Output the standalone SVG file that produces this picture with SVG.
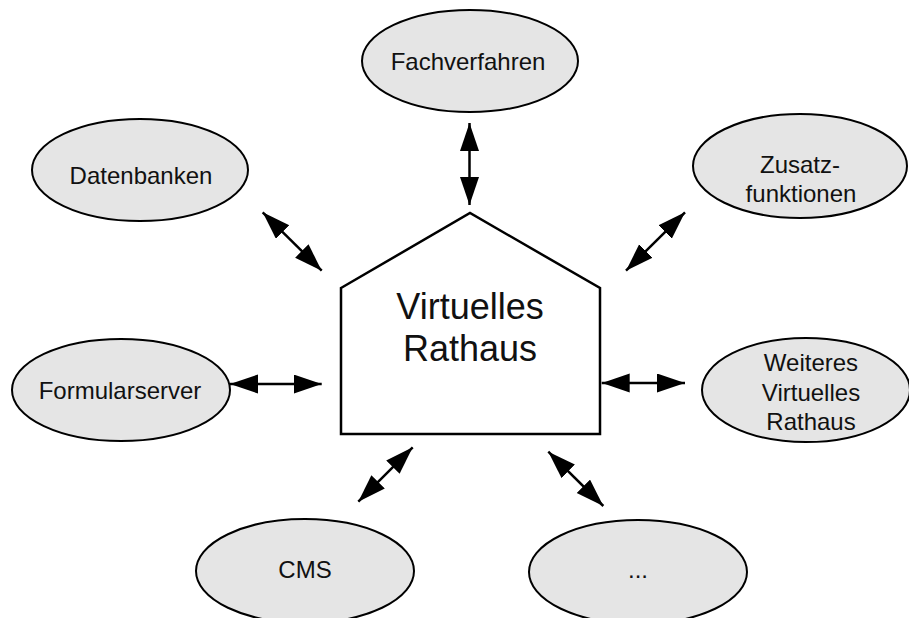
<svg xmlns="http://www.w3.org/2000/svg" width="909" height="618" viewBox="0 0 909 618">
<style>
.node ellipse{fill:#e5e5e5;stroke:#000;stroke-width:2}
.house{fill:#fff;stroke:#000;stroke-width:2.5}
text{font-family:"Liberation Sans",Arial,sans-serif;font-size:24px;fill:#111;text-anchor:middle}
.big{font-size:36px}
.conn line{stroke:#000;stroke-width:2.5;marker-start:url(#ah);marker-end:url(#ah)}
</style>
<defs>
<marker id="ah" markerUnits="userSpaceOnUse" markerWidth="28" markerHeight="20" refX="28" refY="9.5" orient="auto-start-reverse">
<path d="M0,0 L28,9.5 L0,19 Z" fill="#000"/>
</marker>
</defs>
<g id="rathaus">
<path class="house" d="M341,288 L470,213 L600,288 L600,434 L341,434 Z"/>
<text class="big" x="470" y="319">Virtuelles</text>
<text class="big" x="470" y="361">Rathaus</text>
</g>
<g id="fachverfahren" class="node"><ellipse cx="470" cy="61" rx="108" ry="51"/><text x="468" y="70">Fachverfahren</text></g>
<g id="datenbanken" class="node"><ellipse cx="140" cy="170" rx="108" ry="51"/><text x="141" y="184">Datenbanken</text></g>
<g id="zusatzfunktionen" class="node"><ellipse cx="800" cy="166" rx="107" ry="52"/><text x="800" y="173">Zusatz-</text><text x="801" y="202">funktionen</text></g>
<g id="formularserver" class="node"><ellipse cx="121" cy="390" rx="109" ry="51"/><text x="120" y="399">Formularserver</text></g>
<g id="weiteres" class="node"><ellipse cx="806" cy="390" rx="104" ry="52"/><text x="811" y="371">Weiteres</text><text x="811" y="401">Virtuelles</text><text x="811" y="430">Rathaus</text></g>
<g id="cms" class="node"><ellipse cx="305" cy="571" rx="109" ry="52"/><text x="305" y="578">CMS</text></g>
<g id="more" class="node"><ellipse cx="638" cy="572" rx="109" ry="52"/><text x="638" y="578">...</text></g>
<g class="conn">
<line x1="469.5" y1="123" x2="469.5" y2="205"/>
<line x1="262.7" y1="212.3" x2="321.7" y2="270.7"/>
<line x1="685" y1="212.3" x2="626" y2="270.7"/>
<line x1="230" y1="384" x2="321.7" y2="384"/>
<line x1="601.7" y1="383" x2="685" y2="383"/>
<line x1="412.7" y1="447.3" x2="358.3" y2="501.7"/>
<line x1="548.3" y1="451.7" x2="603.3" y2="506"/>
</g>
</svg>
